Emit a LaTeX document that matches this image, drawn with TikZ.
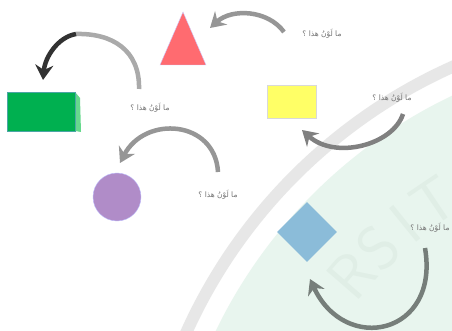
\documentclass[tikz,border=0pt]{standalone}
\usepackage{fontspec}
\newfontfamily\arabicfont[Script=Arabic]{DejaVu Sans}
\TeXXeTstate=1
\usetikzlibrary{arrows.meta,shapes.geometric}
\definecolor{wmgreen}{RGB}{232,245,238}
\definecolor{wmgray}{RGB}{231,231,231}
\definecolor{wmletter}{RGB}{224,238,230}
\definecolor{trired}{RGB}{255,107,112}
\definecolor{boxgreen}{RGB}{0,176,80}
\definecolor{boxside}{RGB}{102,217,140}
\definecolor{boxyellow}{RGB}{255,255,102}
\definecolor{circpurple}{RGB}{176,140,200}
\definecolor{diablue}{RGB}{139,188,217}
\definecolor{txtgray}{RGB}{115,115,115}
\definecolor{arrA}{RGB}{150,150,150}
\definecolor{arrLight}{RGB}{170,170,170}
\definecolor{arrDark}{RGB}{50,50,50}
\definecolor{arrC}{RGB}{128,128,128}
\definecolor{arrE}{RGB}{118,126,122}
\tikzset{
  qlabel/.style={font=\arabicfont\fontsize{7.5}{8}\selectfont, text=txtgray, inner sep=1pt},
  wmchar/.style={font=\sffamily\fontsize{62}{62}\selectfont, text=wmletter, inner sep=0pt},
  curvearrow/.style={line width=4.5pt, -{Stealth[length=15pt,width=18pt,inset=5pt]}},
  plainarc/.style={line width=4.5pt},
}
\newcommand{\qtext}{\beginR ما لَوْنُ هذا ؟\endR}
\begin{document}
\begin{tikzpicture}[x=1pt,y=-1pt]
\useasboundingbox (0,0) rectangle (452,331);
\fill[white] (0,0) rectangle (452,331);
% watermark
\begin{scope}
\clip (0,0) rectangle (452,331);
\fill[wmgreen] (668,549) circle[radius=502pt];
\draw[wmgray, line width=12pt] (668,549) circle[radius=528pt];
\node[wmchar, rotate=49] (wmR) at (352,275) {R};
\node[wmchar, rotate=44] (wmS) at (378,248) {S};
\node[wmchar, rotate=39] (wmI) at (405,224) {I};
\node[wmchar, rotate=34] (wmT) at (434,202) {T};
\end{scope}

% shapes
\coordinate (triTop) at (183,12);
\coordinate (triR) at (206,65);
\coordinate (triL) at (160,65);
\fill[trired, draw=white!80!blue, line width=0.4pt] (triTop) -- (triR) -- (triL) -- cycle;
\coordinate (tri) at (183,45);

\fill[boxside] (75,92) -- (80,98) -- (81,132) -- (75,131) -- cycle;
\node[rectangle, fill=boxgreen, draw=teal!70, line width=0.5pt, minimum width=68pt, minimum height=39pt, inner sep=0pt] (green) at (41,111.5) {};

\node[rectangle, fill=boxyellow, draw=black!15, line width=0.8pt, minimum width=49pt, minimum height=33pt, inner sep=0pt] (yellow) at (291.5,101.5) {};

\node[circle, fill=circpurple, draw=blue!25, line width=0.4pt, minimum size=48pt, inner sep=0pt] (purple) at (117,197) {};

\node[diamond, aspect=1, fill=diablue, minimum width=60pt, minimum height=60pt, inner sep=0pt] (blue) at (307,232) {};

% labels
\node[qlabel] (t1) at (322,34) {\qtext};
\node[qlabel] (t2) at (150,108) {\qtext};
\node[qlabel] (t3) at (392,98) {\qtext};
\node[qlabel] (t4) at (218,195) {\qtext};
\node[qlabel] (t5) at (430,228) {\qtext};

% arrow endpoints
\coordinate (a1s) at (284,32);
\coordinate (a1e) at (210,28);
\coordinate (a2s) at (139,89);
\coordinate (a2m) at (76,34);
\coordinate (a2e) at (43,80);
\coordinate (a3s) at (403,114);
\coordinate (a3e) at (302,130);
\coordinate (a4s) at (218,172);
\coordinate (a4e) at (120,163);
\coordinate (a5s) at (425,248);
\coordinate (a5e) at (310,279);

% arrows
\draw[curvearrow, arrA] (a1s) .. controls (268,10) and (232,8) .. (a1e);
\draw[plainarc, arrLight] (a2s) .. controls (140,50) and (112,33) .. (a2m);
\draw[curvearrow, arrDark] (a2m) .. controls (58,37) and (45,57) .. (a2e);
\draw[curvearrow, arrC] (a3s) .. controls (393,145) and (335,160) .. (a3e);
\draw[curvearrow, arrA] (a4s) .. controls (215,120) and (145,115) .. (a4e);
\draw[curvearrow, arrE] (a5s) .. controls (440,335) and (345,355) .. (a5e);
\end{tikzpicture}
\end{document}
